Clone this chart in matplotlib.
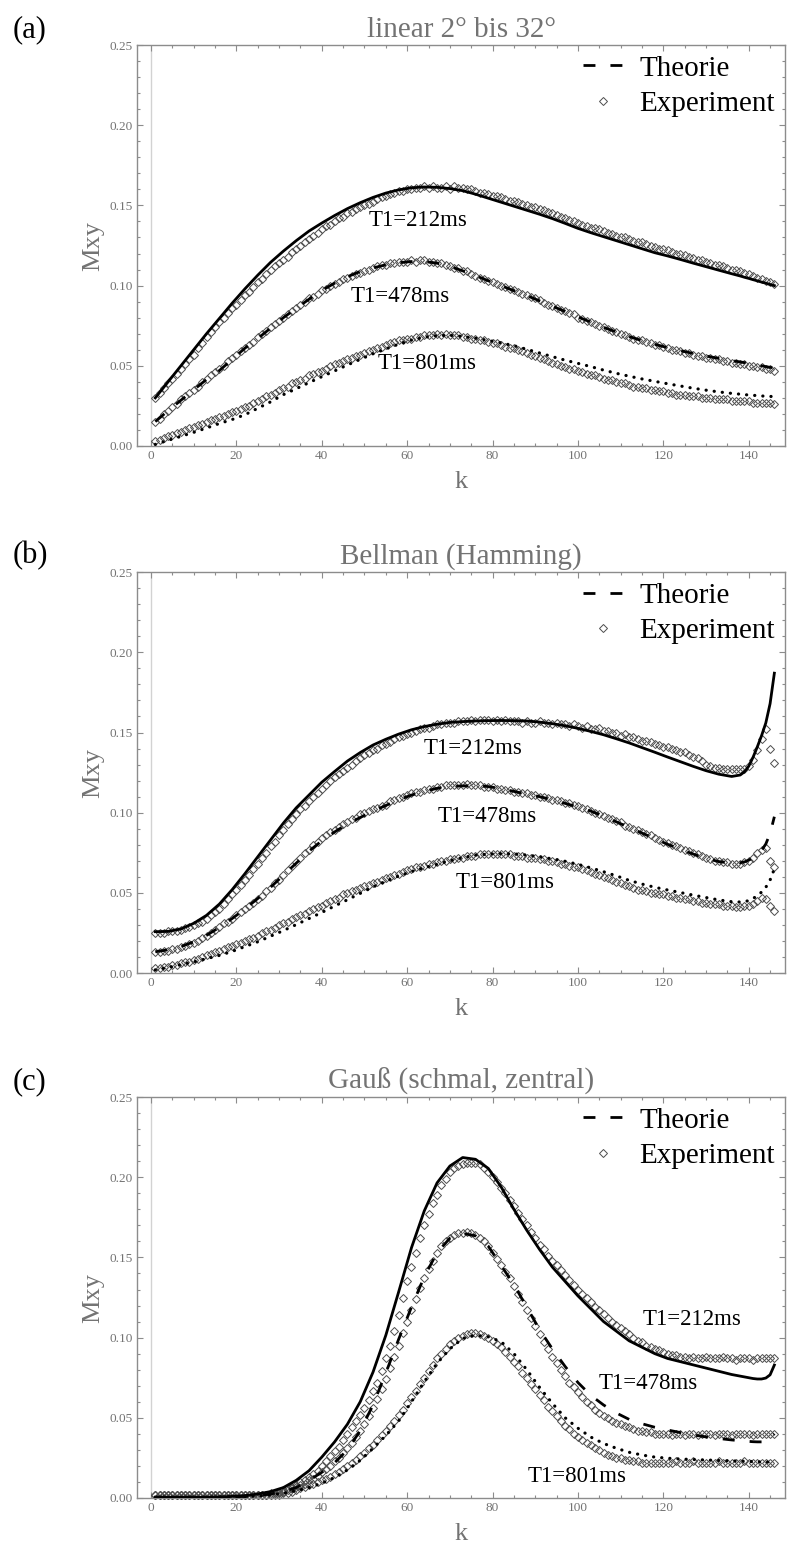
import matplotlib
matplotlib.use("Agg")
import matplotlib.pyplot as plt
from matplotlib.lines import Line2D
from matplotlib.ticker import MultipleLocator, FormatStrFormatter

# ---------------------------------------------------------------- data
k_exp = list(range(1, 147))
k_theory = [1, 4, 7, 10, 13, 16, 19, 22, 25, 28, 31, 34, 37, 40, 43, 46, 49, 52, 55, 58,
            61, 64, 67, 70, 73, 76, 79, 82, 85, 88, 91, 94, 97, 100, 103, 106, 109, 112, 115, 118,
            121, 124, 127, 130, 133, 136, 138, 139, 140, 141, 142, 143, 144, 145, 146]

t1_labels = ["T1=212ms", "T1=478ms", "T1=801ms"]
panel_tags = ["(a)", "(b)", "(c)"]
panel_titles = ["linear 2° bis 32°", "Bellman (Hamming)", "Gauß (schmal, zentral)"]

# (a) linear 2..32 deg
lin_theory_212 = [.030, .040, .050, .060, .070, .0795, .089, .098, .1065, .1145, .1215, .128, .134, .139,
                  .1437, .148, .1517, .155, .1577, .1597, .161, .1615, .1613, .1605, .1592, .157, .1545,
                  .152, .1495, .147, .1445, .1418, .1388, .1357, .133, .1305, .128, .1255, .123, .1205,
                  .1185, .1163, .114, .1118, .1096, .1074, .106, .1052, .1045, .1037, .103, .1022,
                  .1015, .1007, .100]
lin_theory_478 = [.0152, .022, .0285, .035, .0415, .047, .054, .061, .067, .0735, .080, .0858, .0915, .097,
                  .1015, .1055, .1088, .111, .113, .1143, .115, .115, .114, .112, .1092, .1062, .103,
                  .100, .0968, .0938, .0905, .0872, .0838, .0805, .0772, .074, .071, .0682, .0657, .0634,
                  .0613, .0594, .0577, .0561, .0546, .0532, .0524, .052, .0515, .051, .0505, .050,
                  .0495, .049, .0487]
lin_theory_801 = [.001, .0035, .006, .0085, .0112, .014, .0165, .0195, .0235, .0275, .032, .0357, .0395,
                  .0432, .0468, .0505, .054, .0575, .0605, .0635, .066, .0678, .0688, .069, .0683, .0672,
                  .0658, .0643, .0625, .0603, .058, .0557, .0535, .0515, .0495, .0473, .0453, .0435,
                  .0418, .0403, .0388, .0374, .036, .0348, .0337, .0328, .0323, .032, .0318, .0316,
                  .0314, .0312, .031, .0309, .0308]

lin_exp_212 = [.030, .033, .036, .039, .042, .045, .048, .051, .054, .057,
               .061, .064, .068, .071, .074, .077, .080, .083, .086, .088,
               .091, .094, .096, .099, .102, .104, .107, .110, .112, .114,
               .116, .118, .121, .123, .125, .127, .129, .131, .133, .135,
               .137, .138, .140, .142, .143, .145, .146, .148, .149, .150,
               .151, .152, .154, .155, .156, .157, .158, .159, .159, .160,
               .160, .161, .161, .162, .161, .162, .161, .161, .162, .160,
               .162, .161, .161, .160, .160, .159, .158, .158, .157, .156,
               .156, .155, .154, .153, .153, .152, .151, .150, .149, .149,
               .148, .147, .146, .145, .144, .143, .142, .141, .140, .139,
               .138, .137, .136, .136, .135, .134, .133, .132, .131, .130,
               .130, .129, .128, .127, .127, .126, .125, .124, .123, .123,
               .122, .121, .120, .120, .119, .118, .117, .116, .116, .115,
               .114, .113, .113, .112, .111, .110, .110, .109, .108, .107,
               .106, .105, .104, .103, .102, .101]
lin_exp_478 = [.015, .017, .020, .022, .024, .026, .029, .031, .033, .035,
               .037, .040, .042, .044, .046, .048, .050, .053, .055, .057,
               .059, .061, .063, .065, .068, .070, .072, .074, .076, .078,
               .080, .082, .084, .086, .088, .090, .092, .093, .095, .097,
               .098, .100, .101, .102, .104, .105, .106, .107, .108, .109,
               .110, .111, .112, .113, .113, .114, .114, .115, .115, .115,
               .116, .115, .116, .116, .115, .115, .114, .114, .113, .112,
               .111, .111, .109, .109, .107, .106, .105, .104, .103, .102,
               .101, .100, .099, .098, .097, .096, .095, .094, .093, .092,
               .091, .089, .088, .087, .086, .085, .084, .083, .082, .080,
               .079, .078, .077, .076, .075, .074, .073, .072, .071, .070,
               .069, .068, .067, .066, .066, .065, .064, .063, .063, .062,
               .061, .060, .060, .059, .058, .058, .057, .056, .056, .055,
               .055, .054, .054, .053, .053, .052, .052, .051, .051, .050,
               .050, .049, .049, .048, .048, .047]
lin_exp_801 = [.003, .004, .005, .006, .007, .008, .009, .010, .011, .012,
               .013, .014, .015, .016, .017, .018, .019, .020, .021, .022,
               .023, .024, .025, .027, .028, .029, .031, .032, .033, .035,
               .036, .037, .039, .040, .041, .042, .044, .045, .046, .047,
               .048, .050, .051, .052, .053, .054, .055, .056, .057, .058,
               .059, .060, .061, .062, .063, .064, .065, .066, .066, .067,
               .067, .068, .068, .069, .069, .069, .070, .069, .070, .069,
               .069, .069, .068, .068, .067, .067, .066, .066, .065, .064,
               .064, .063, .062, .061, .061, .060, .059, .058, .057, .056,
               .055, .054, .053, .052, .051, .050, .049, .048, .048, .047,
               .046, .045, .044, .044, .043, .042, .041, .041, .040, .039,
               .039, .038, .037, .037, .036, .036, .035, .035, .034, .034,
               .033, .033, .032, .032, .032, .031, .031, .031, .030, .030,
               .030, .029, .029, .029, .029, .028, .028, .028, .028, .028,
               .027, .027, .027, .027, .027, .026]

# (b) Bellman (Hamming)
bel_theory_212 = [.0258, .026, .0275, .031, .036, .043, .052, .062, .0725, .083, .0935, .103, .111, .119,
                  .1257, .1322, .1375, .1422, .1458, .149, .1517, .1537, .1552, .1563, .1568, .1572,
                  .1574, .1575, .1574, .1572, .1565, .1555, .1542, .1526, .1507, .1486, .1461, .1435,
                  .1406, .1377, .1347, .1318, .1289, .1262, .124, .1226, .1235, .1255, .129, .1345,
                  .141, .148, .156, .168, .187]
bel_theory_478 = [.0133, .0145, .0165, .0195, .0235, .0285, .034, .040, .0465, .0535, .061, .0685, .076,
                  .0825, .088, .093, .097, .101, .1045, .108, .111, .1133, .1152, .1163, .1167, .1168,
                  .1163, .115, .1133, .1116, .110, .108, .1058, .1035, .101, .0978, .0943, .0908, .0873,
                  .0838, .0803, .0772, .0742, .0715, .0695, .0686, .0688, .0693, .0704, .0718, .0737,
                  .0765, .0805, .087, .0975]
bel_theory_801 = [.002, .0035, .0052, .007, .009, .011, .0135, .0165, .0195, .023, .0265, .0302, .034,
                  .0378, .0418, .0457, .0497, .0537, .0573, .0605, .0633, .0657, .0678, .070, .072, .0735,
                  .0742, .0745, .0743, .0736, .0725, .0712, .0697, .0678, .0656, .0632, .0606, .0578,
                  .0555, .0535, .0518, .0502, .0486, .0471, .0456, .0445, .0443, .0445, .0452, .0465,
                  .0482, .0505, .0535, .058, .065]

bel_exp_212 = [.025, .025, .025, .026, .026, .026, .027, .028, .029, .030,
               .031, .032, .034, .036, .038, .040, .043, .046, .049, .052,
               .055, .058, .061, .065, .068, .072, .075, .079, .082, .086,
               .089, .093, .096, .099, .102, .104, .107, .110, .112, .115,
               .117, .120, .122, .124, .126, .128, .130, .132, .134, .136,
               .137, .139, .140, .142, .143, .144, .146, .147, .148, .149,
               .150, .151, .152, .153, .153, .154, .155, .155, .156, .156,
               .156, .157, .157, .157, .158, .157, .158, .158, .158, .157,
               .158, .157, .158, .157, .157, .157, .156, .157, .156, .156,
               .157, .156, .156, .155, .156, .155, .155, .154, .155, .154,
               .153, .154, .152, .152, .153, .151, .151, .150, .150, .148,
               .149, .147, .147, .146, .145, .145, .144, .143, .142, .141,
               .141, .140, .139, .138, .138, .136, .135, .134, .132, .130,
               .129, .128, .128, .127, .127, .127, .127, .127, .127, .129,
               .133, .139, .146, .152, .140, .131]
bel_exp_478 = [.013, .013, .014, .014, .015, .015, .016, .017, .018, .019,
               .020, .022, .023, .025, .027, .029, .031, .032, .034, .036,
               .038, .040, .042, .044, .046, .048, .051, .053, .056, .058,
               .061, .064, .067, .069, .072, .075, .077, .080, .082, .084,
               .086, .088, .089, .091, .093, .094, .096, .097, .099, .100,
               .101, .102, .103, .104, .105, .107, .108, .109, .110, .111,
               .112, .113, .113, .114, .115, .115, .116, .116, .117, .117,
               .117, .117, .117, .118, .117, .117, .117, .116, .116, .116,
               .115, .115, .114, .114, .113, .113, .112, .112, .111, .111,
               .110, .110, .109, .108, .108, .107, .106, .106, .105, .104,
               .103, .102, .101, .100, .099, .098, .097, .096, .095, .094,
               .092, .091, .090, .089, .088, .087, .086, .084, .083, .082,
               .081, .080, .079, .078, .077, .076, .075, .074, .073, .072,
               .071, .070, .070, .069, .069, .068, .068, .068, .069, .070,
               .072, .075, .077, .078, .070, .066]
bel_exp_801 = [.003, .003, .004, .004, .005, .005, .006, .007, .007, .008,
               .009, .010, .011, .012, .013, .014, .015, .016, .017, .018,
               .019, .020, .021, .022, .023, .025, .026, .027, .028, .030,
               .031, .032, .034, .035, .036, .037, .039, .040, .041, .042,
               .044, .045, .046, .047, .049, .050, .051, .052, .053, .054,
               .055, .056, .057, .058, .059, .060, .061, .062, .063, .064,
               .065, .066, .066, .067, .068, .068, .069, .070, .070, .071,
               .071, .072, .072, .073, .073, .073, .074, .074, .074, .074,
               .074, .074, .074, .074, .073, .073, .073, .072, .072, .072,
               .071, .071, .070, .070, .069, .068, .068, .067, .066, .066,
               .065, .064, .063, .062, .061, .060, .059, .058, .057, .056,
               .055, .054, .053, .052, .052, .051, .050, .050, .049, .049,
               .048, .048, .047, .047, .046, .046, .045, .045, .044, .044,
               .043, .043, .043, .042, .042, .042, .041, .041, .042, .042,
               .043, .045, .047, .046, .042, .039]

# (c) Gauss (narrow, central)
gau_theory_212 = [.0005, .0005, .0005, .0005, .0005, .0007, .001, .0015, .0025, .004, .0065, .011, .017,
                  .0255, .035, .046, .060, .0785, .1015, .1285, .156, .179, .1965, .207, .2123, .2112,
                  .2055, .194, .180, .167, .155, .144, .135, .126, .118, .110, .104, .098, .094, .090,
                  .087, .085, .083, .081, .079, .077, .076, .0755, .075, .0745, .0742, .0742, .0748,
                  .0768, .0829]
gau_theory_478 = [.0005, .0005, .0005, .0005, .0005, .0005, .0007, .001, .0015, .0025, .004, .0065, .011,
                  .016, .022, .030, .042, .058, .078, .099, .119, .138, .153, .162, .165, .1635, .157,
                  .145, .133, .119, .105, .093, .082, .072, .064, .058, .053, .049, .0463, .0441, .0424,
                  .0408, .0393, .0381, .0371, .0362, .0357, .0355, .0353, .0351, .035, .035, .0352,
                  .0365, .040]
gau_theory_801 = [.0005, .0005, .0005, .0005, .0005, .0005, .0006, .0008, .0012, .002, .003, .0045, .0065,
                  .0092, .0128, .0175, .0235, .031, .039, .048, .060, .0725, .084, .093, .0995, .1015,
                  .1005, .0975, .090, .080, .069, .059, .050, .0435, .038, .034, .031, .0285, .0268,
                  .0255, .0248, .0243, .024, .0237, .0234, .0231, .023, .0229, .0228, .0227, .0226,
                  .0225, .0224, .0224, .0225]

gau_exp_212 = [.002, .002, .002, .002, .002, .002, .002, .002, .002, .002,
               .002, .002, .002, .002, .002, .002, .002, .002, .002, .002,
               .002, .002, .002, .002, .002, .002, .002, .003, .003, .004,
               .005, .006, .007, .008, .010, .011, .013, .015, .017, .020,
               .023, .026, .029, .032, .036, .040, .044, .048, .052, .056,
               .061, .067, .072, .079, .087, .095, .104, .114, .125, .135,
               .144, .153, .162, .170, .177, .184, .189, .195, .199, .203,
               .206, .207, .208, .209, .209, .209, .208, .206, .203, .200,
               .197, .193, .190, .186, .182, .178, .174, .170, .166, .162,
               .158, .155, .151, .148, .145, .142, .139, .136, .133, .130,
               .127, .125, .122, .119, .117, .115, .112, .110, .108, .106,
               .104, .102, .100, .098, .097, .095, .094, .093, .092, .091,
               .090, .089, .089, .088, .088, .087, .088, .087, .087, .088,
               .087, .087, .087, .088, .087, .087, .086, .087, .087, .087,
               .086, .087, .087, .087, .087, .087]
gau_exp_478 = [.002, .002, .002, .002, .002, .002, .002, .002, .002, .002,
               .002, .002, .002, .002, .002, .002, .002, .002, .002, .002,
               .002, .002, .002, .002, .002, .002, .002, .002, .003, .003,
               .004, .005, .006, .007, .008, .009, .011, .012, .014, .016,
               .018, .020, .023, .025, .028, .031, .034, .038, .042, .046,
               .051, .056, .062, .068, .074, .081, .088, .095, .103, .110,
               .117, .124, .131, .137, .143, .148, .153, .157, .160, .162,
               .164, .165, .165, .166, .165, .164, .162, .160, .157, .153,
               .149, .145, .141, .137, .132, .127, .122, .117, .112, .107,
               .102, .097, .093, .088, .084, .080, .076, .072, .069, .066,
               .063, .060, .058, .055, .053, .051, .050, .048, .047, .046,
               .045, .044, .043, .042, .042, .041, .041, .040, .040, .040,
               .040, .039, .040, .040, .039, .040, .040, .039, .040, .040,
               .040, .039, .040, .040, .040, .039, .040, .040, .040, .040,
               .039, .040, .040, .040, .040, .040]
gau_exp_801 = [.002, .002, .002, .002, .002, .002, .002, .002, .002, .002,
               .002, .002, .002, .002, .002, .002, .002, .002, .002, .002,
               .002, .002, .002, .002, .002, .002, .002, .002, .002, .002,
               .003, .003, .004, .005, .006, .007, .008, .009, .010, .011,
               .012, .013, .015, .016, .018, .020, .022, .024, .026, .028,
               .031, .033, .036, .039, .042, .045, .048, .052, .055, .059,
               .063, .067, .071, .075, .079, .083, .087, .090, .093, .096,
               .098, .100, .101, .102, .103, .103, .102, .101, .100, .098,
               .096, .094, .091, .088, .085, .082, .078, .075, .071, .068,
               .064, .061, .057, .054, .051, .048, .045, .043, .040, .038,
               .036, .034, .033, .031, .030, .028, .027, .026, .025, .025,
               .024, .024, .023, .023, .022, .022, .022, .022, .022, .022,
               .022, .022, .023, .022, .022, .022, .023, .022, .022, .022,
               .022, .022, .023, .022, .022, .022, .022, .022, .023, .022,
               .022, .022, .022, .022, .022, .022]

# T1 label anchors (k, Mxy)
label_pos = [
    [(62.5, 0.1409), (58.3, 0.0929), (64.6, 0.0517)],
    [(75.4, 0.1403), (78.7, 0.0979), (82.9, 0.0567)],
    [(126.7, 0.1110), (116.4, 0.0711), (99.8, 0.0137)],
]

theory_sets = [
    [lin_theory_212, lin_theory_478, lin_theory_801],
    [bel_theory_212, bel_theory_478, bel_theory_801],
    [gau_theory_212, gau_theory_478, gau_theory_801],
]
exp_sets = [
    [lin_exp_212, lin_exp_478, lin_exp_801],
    [bel_exp_212, bel_exp_478, bel_exp_801],
    [gau_exp_212, gau_exp_478, gau_exp_801],
]

# ---------------------------------------------------------------- style
plt.rcParams["font.family"] = ["Liberation Serif", "DejaVu Serif"]
LABEL_GRAY = "#737373"
FRAME_GRAY = "#8c8c8c"
MARKER_EDGE = "#4d4d4d"

line_styles = [
    dict(ls="-", lw=2.0),
    dict(ls=(0, (4.3, 5.4)), lw=2.0, dash_capstyle="butt"),
    dict(ls=(0, (0.05, 2.5)), lw=2.3, dash_capstyle="round"),
]

fig = plt.figure(figsize=(7.87, 15.48), dpi=100)

ax_left, ax_width, ax_height = 0.1741, 0.8234, 0.2590
bottoms = [0.7119, 0.3714, 0.0323]
tag_y = [1 - 30 / 1548, 1 - 556 / 1548, 1 - 1082 / 1548]

for i in range(3):
    ax = fig.add_axes([ax_left, bottoms[i], ax_width, ax_height])
    ax.set_xlim(-3.28, 148.5)
    ax.set_ylim(0, 0.25)

    ax.axvline(0, color="#d2d2d2", lw=1.0, zorder=0)

    for ys in exp_sets[i]:
        ax.plot(k_exp, ys, ls="none", marker="D", ms=3.9, mfc="none",
                mec=MARKER_EDGE, mew=0.7, zorder=2, clip_on=False)
    for ys, st in zip(theory_sets[i], line_styles):
        ax.plot(k_theory, ys, color="black", zorder=3, **st)

    for txt, (kx, my) in zip(t1_labels, label_pos[i]):
        ax.text(kx, my, txt, fontsize=16.5, ha="center", va="center", color="black", zorder=4)

    # frame and ticks
    for sp in ax.spines.values():
        sp.set_color(FRAME_GRAY)
        sp.set_linewidth(1.0)
    ax.xaxis.set_major_locator(MultipleLocator(20))
    ax.xaxis.set_minor_locator(MultipleLocator(5))
    ax.yaxis.set_major_locator(MultipleLocator(0.05))
    ax.yaxis.set_minor_locator(MultipleLocator(0.01))
    ax.yaxis.set_major_formatter(FormatStrFormatter("%.2f"))
    ax.tick_params(which="both", direction="in", top=True, right=True,
                   color=FRAME_GRAY, width=0.8, labelcolor=LABEL_GRAY, labelsize=9.5)
    ax.tick_params(which="major", length=4.5, pad=3)
    ax.tick_params(which="minor", length=2.5)

    ax.set_title(panel_titles[i], fontsize=21, color=LABEL_GRAY, pad=6)
    ax.set_xlabel("k", fontsize=19, color=LABEL_GRAY)
    ax.set_ylabel("Mxy", fontsize=19, color=LABEL_GRAY)
    ax.xaxis.set_label_coords(0.5, -0.062)
    ax.yaxis.set_label_coords(-0.05, 0.5)

    handles = [
        Line2D([0], [0], color="black", **line_styles[1]),
        Line2D([0], [0], ls="none", marker="D", ms=3.6, mfc="none", mec=MARKER_EDGE, mew=0.7),
    ]
    ax.legend(handles, ["Theorie", "Experiment"], loc="upper right", frameon=False,
              fontsize=21, handlelength=1.35, handletextpad=0.58, labelspacing=0.3,
              borderaxespad=0.25, borderpad=0.1)

    fig.text(30 / 787, tag_y[i], panel_tags[i], fontsize=22, ha="center", va="center",
             color="black")

fig.savefig("out.png", dpi=100)
